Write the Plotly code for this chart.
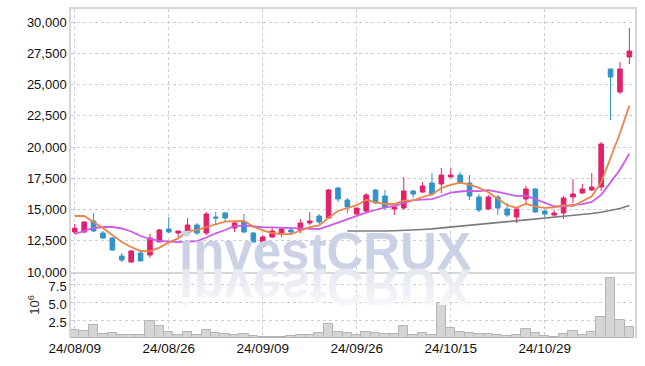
import plotly.graph_objects as go
from plotly.subplots import make_subplots

dates = ["24/08/09", "24/08/12", "24/08/13", "24/08/14", "24/08/16", "24/08/19", "24/08/20", "24/08/21",
         "24/08/22", "24/08/23", "24/08/26", "24/08/27", "24/08/28", "24/08/29", "24/08/30", "24/09/02",
         "24/09/03", "24/09/04", "24/09/05", "24/09/06", "24/09/09", "24/09/10", "24/09/11", "24/09/12",
         "24/09/13", "24/09/19", "24/09/20", "24/09/23", "24/09/24", "24/09/25", "24/09/26", "24/09/27",
         "24/09/30", "24/10/02", "24/10/04", "24/10/07", "24/10/08", "24/10/10", "24/10/11", "24/10/14",
         "24/10/15", "24/10/16", "24/10/17", "24/10/18", "24/10/21", "24/10/22", "24/10/23", "24/10/24",
         "24/10/25", "24/10/28", "24/10/29", "24/10/30", "24/10/31", "24/11/01", "24/11/04", "24/11/05",
         "24/11/06", "24/11/07", "24/11/08", "24/11/11"]

opens = [13200, 13200, 14080, 13120, 12720, 11280, 10800, 11520, 11360, 12400,
         13440, 13120, 13120, 13760, 13120, 14400, 14720, 13520, 14000, 13120,
         12080, 12800, 13120, 13360, 13360, 13920, 14480, 14320, 16720, 15760,
         14640, 14880, 16560, 16080, 15040, 15120, 16480, 16400, 17120, 17040,
         17600, 17760, 17120, 16000, 15040, 16000, 15040, 14400, 15840, 16640,
         14880, 14560, 14720, 16000, 16320, 16560, 16800, 26240, 24400, 27200]
highs = [13840, 14080, 14720, 13280, 12800, 11520, 11760, 11600, 13040, 13440,
         14400, 13280, 14320, 13920, 14800, 14800, 14800, 14080, 14640, 13200,
         12960, 13600, 13600, 13600, 14240, 14800, 14640, 16640, 16800, 15920,
         15120, 16320, 16640, 16560, 15360, 17600, 16560, 17200, 17920, 18320,
         18320, 18000, 17760, 16240, 16160, 16160, 15520, 15120, 16880, 16720,
         14960, 14960, 16080, 17440, 17040, 17920, 20400, 26240, 26800, 29520]
lows = [13040, 13100, 13200, 12640, 11680, 10800, 10720, 10880, 11120, 12400,
        13120, 12800, 13040, 12960, 12960, 13760, 14000, 13200, 13120, 12400,
        11920, 12720, 12800, 13040, 13120, 13760, 13840, 14240, 15600, 14720,
        14560, 14800, 15440, 14960, 14560, 14960, 15920, 16320, 16080, 16320,
        17600, 17040, 15760, 14800, 14960, 14560, 14400, 13920, 15520, 14720,
        14400, 14400, 14240, 15520, 16240, 16480, 16480, 22160, 24240, 26640]
closes = [13500, 14000, 13280, 12720, 11760, 10960, 11680, 10880, 12720, 13360,
          13200, 13280, 13760, 13120, 14640, 14320, 14320, 13920, 13200, 12400,
          12800, 13280, 13440, 13200, 13920, 14080, 14000, 16560, 15840, 15200,
          15120, 16160, 15520, 15200, 15200, 16480, 16240, 16880, 16240, 17760,
          17760, 17120, 16080, 14960, 16000, 15120, 14560, 15040, 16640, 14800,
          14640, 14720, 15920, 16240, 16640, 16800, 20240, 25600, 26240, 27680]
volume_m = [1.15, 1.0, 1.8, 0.6, 0.75, 0.4, 0.4, 0.4, 2.4, 1.7,
            0.9, 0.45, 0.85, 0.45, 1.15, 0.65, 0.6, 0.45, 0.5, 0.3,
            0.2, 0.2, 0.2, 0.3, 0.45, 0.45, 0.7, 2.0, 0.9, 0.65,
            0.4, 0.85, 0.75, 0.6, 0.5, 1.6, 0.4, 0.7, 0.45, 4.8,
            1.35, 0.8, 0.7, 0.55, 0.55, 0.4, 0.3, 0.4, 1.25, 0.7,
            0.3, 0.2, 0.55, 1.0, 0.45, 0.8, 2.9, 8.3, 2.5, 1.5]
ma5 = [14480, 14480, 14000, 13520, 12960, 12400, 12000, 11680, 11650, 11950,
       12368, 12688, 13264, 13344, 13600, 13824, 14032, 14064, 14080, 13632,
       13328, 13120, 13024, 13024, 13328, 13584, 13728, 14352, 14880, 15136,
       15344, 15776, 15568, 15440, 15440, 15712, 15728, 16000, 16208, 16720,
       16976, 17152, 16992, 16736, 16384, 15856, 15344, 15136, 15472, 15232,
       15136, 15168, 15344, 15264, 15632, 16064, 17168, 19104, 21104, 23312]
ma10 = [13040, 13280, 13520, 13600, 13600, 13480, 13240, 12880, 12640, 12486,
        12456, 12384, 12432, 12472, 12760, 13096, 13360, 13664, 13712, 13616,
        13576, 13576, 13544, 13552, 13480, 13456, 13424, 13688, 13952, 14232,
        14464, 14752, 14960, 15160, 15288, 15528, 15752, 15784, 15824, 16080,
        16344, 16440, 16496, 16472, 16552, 16416, 16248, 16064, 16104, 15808,
        15496, 15256, 15240, 15368, 15432, 15600, 16168, 17224, 18184, 19472]
ma_long = [None] * 29 + [13280, 13270, 13260, 13260, 13280, 13300, 13320, 13350, 13400, 13450,
                         13520, 13580, 13650, 13720, 13790, 13860, 13920, 13990, 14060, 14150,
                         14230, 14310, 14390, 14460, 14530, 14600, 14680, 14780, 14920, 15080, 15320]
price_ticks = [10000, 12500, 15000, 17500, 20000, 22500, 25000, 27500, 30000]
vol_ticks = [2.5, 5.0, 7.5]
vol_tick_text = ["2.5", "5.0", "7.5"]
x_tick_labels = ["24/08/09", "24/08/26", "24/09/09", "24/09/26", "24/10/15", "24/10/29"]
watermark = "investCRUX"

volume = [v * 1e6 for v in volume_m]

UP = "#e2206c"
DOWN = "#3193c9"
GRID = "#c9ccd9"
FRAME = "#d6d6d6"
FONT = "Liberation Sans, Arial, sans-serif"

fig = make_subplots(rows=2, cols=1, shared_xaxes=True, vertical_spacing=0,
                    row_heights=[0.7994, 0.2006])

fig.add_trace(go.Bar(x=dates, y=volume, marker=dict(color="#d5d5d7", line=dict(color="#b4b4b8", width=1)),
                     hoverinfo="skip", showlegend=False), row=2, col=1)

fig.add_trace(go.Candlestick(x=dates, open=opens, high=highs, low=lows, close=closes,
                             increasing=dict(line=dict(color=UP, width=1), fillcolor=UP),
                             decreasing=dict(line=dict(color=DOWN, width=1), fillcolor=DOWN),
                             whiskerwidth=0, showlegend=False), row=1, col=1)

fig.add_trace(go.Scatter(x=dates, y=ma_long, mode="lines", line=dict(color="#7c7c7c", width=1.7),
                         showlegend=False, hoverinfo="skip"), row=1, col=1)
fig.add_trace(go.Scatter(x=dates, y=ma10, mode="lines", line=dict(color="#cc5ae8", width=1.8),
                         showlegend=False, hoverinfo="skip"), row=1, col=1)
fig.add_trace(go.Scatter(x=dates, y=ma5, mode="lines", line=dict(color="#ee8348", width=1.8),
                         showlegend=False, hoverinfo="skip"), row=1, col=1)

axis_common = dict(type="category", range=[-0.4, 59.6], showgrid=True, gridcolor=GRID, griddash="dot",
                   gridwidth=1, tickmode="array", tickvals=x_tick_labels, ticktext=x_tick_labels,
                   rangeslider=dict(visible=False), zeroline=False, automargin=False)
fig.update_xaxes(**axis_common)
fig.update_xaxes(showticklabels=False, showline=True, linecolor=FRAME, linewidth=1.5, mirror=True, row=1, col=1)
fig.update_xaxes(showticklabels=True, showline=False, ticks="",
                 tickfont=dict(family=FONT, size=13.5, color="#111"), row=2, col=1)

fig.update_yaxes(range=[10000, 31040], tickmode="array", tickvals=price_ticks, tickformat=",",
                 showgrid=True, gridcolor=GRID, griddash="dot", zeroline=False, automargin=False,
                 showline=True, linecolor=FRAME, linewidth=1.5, mirror=True, ticks="",
                 tickfont=dict(family=FONT, size=13, color="#111"), row=1, col=1)
fig.update_yaxes(range=[0, 9.17e6], tickmode="array", tickvals=[v * 1e6 for v in vol_ticks],
                 ticktext=vol_tick_text, showgrid=True, gridcolor=GRID, griddash="dot", zeroline=False,
                 showline=True, linecolor=FRAME, linewidth=1.5, mirror=True, ticks="", automargin=False,
                 ticklabelshift=2,
                 title=dict(text="10<sup>6</sup>", font=dict(family=FONT, size=13, color="#333"), standoff=6),
                 tickfont=dict(family=FONT, size=13, color="#111"), row=2, col=1)

fig.add_annotation(text=watermark, xref="paper", yref="paper", x=0.45, y=0.2006, xanchor="center",
                   yanchor="bottom", yshift=-10, showarrow=False,
                   font=dict(family=FONT, size=51, color="#cbd2e6", weight="bold"))
fig.add_annotation(text=watermark, xref="paper", yref="paper", x=0.45, y=0.2006, xanchor="center",
                   yanchor="bottom", yshift=-10, showarrow=False,
                   font=dict(family=FONT, size=51, color="#e3e6ee", weight="bold"))

fig.update_layout(width=645, height=366, margin=dict(l=71, r=10, t=9, b=28, autoexpand=False),
                  paper_bgcolor="white", plot_bgcolor="white", bargap=0.0,
                  font=dict(family=FONT, color="#222"), showlegend=False)

post = """
(function(){
  document.body.style.margin = '0';
  document.body.style.padding = '0';
  var gd = document.getElementById('{plot_id}');
  function flip(){
    var t = gd.querySelector('g.annotation[data-index="1"] text.annotation-text');
    if(!t) return;
    var bb = t.getBBox();
    var base = bb.y + bb.height*0.81;
    t.setAttribute('transform','translate(0,'+(2*base)+') scale(1,-1)');
    var svg = gd.querySelector('svg.main-svg');
    var defs = svg.querySelector('defs');
    if(!svg.querySelector('#wmfade')){
      var ns='http://www.w3.org/2000/svg';
      var lg=document.createElementNS(ns,'linearGradient');
      lg.setAttribute('id','wmfade');lg.setAttribute('x1','0');lg.setAttribute('y1','0');
      lg.setAttribute('x2','0');lg.setAttribute('y2','1');
      var s1=document.createElementNS(ns,'stop');s1.setAttribute('offset','0');s1.setAttribute('stop-color','#fbfbfd');
      var s2=document.createElementNS(ns,'stop');s2.setAttribute('offset','1');s2.setAttribute('stop-color','#dfe2ec');
      lg.appendChild(s1);lg.appendChild(s2);defs.appendChild(lg);
    }
    t.style.fill='url(#wmfade)';
  }
  flip();
})();
"""
fig.write_html("out.html", post_script=post, config={"displayModeBar": False})
